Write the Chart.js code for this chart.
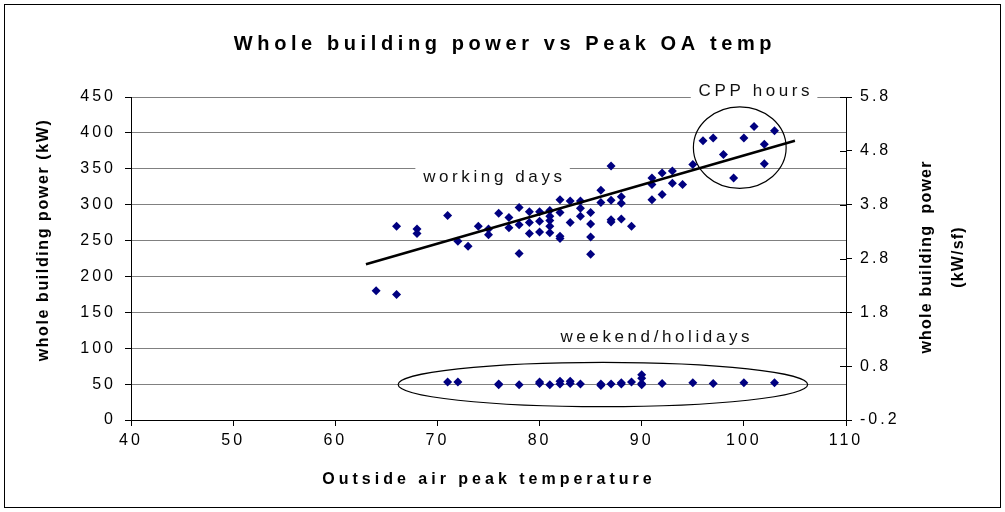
<!DOCTYPE html>
<html>
<head>
<meta charset="utf-8">
<script src="https://cdn.jsdelivr.net/npm/chart.js@4.4.1/dist/chart.umd.min.js"></script>
<style>
  html, body { margin: 0; padding: 0; background: #fff; }
  #wrap { width: 1005px; height: 512px; position: relative; }
</style>
</head>
<body>
<div id="wrap"><canvas id="chart"></canvas></div>
<script>
// working days: peak OA temp (F) and whole building power (kW)
const workingTemps = [64, 66, 66, 68, 68, 71, 72, 73, 74, 75, 75, 76, 77, 77, 78, 78, 78, 79, 79, 79,
    80, 80, 80, 81, 81, 81, 81, 81, 82, 82, 82, 82, 83, 83, 84, 84, 84, 85, 85, 85, 85,
    86, 86, 87, 87, 87, 87, 88, 88, 88, 89, 91, 91, 91, 92, 92, 93, 93, 94, 95,
    96, 97, 98, 99, 100, 101, 102, 102, 103];
const workingPower = [180, 175, 270, 266, 260, 285, 249, 242, 270, 266, 258, 288, 282, 268, 296, 272, 232, 290, 275, 260,
    290, 277, 262, 292, 284, 278, 270, 261, 307, 289, 253, 256, 305, 275, 305, 295, 284, 289, 273, 255, 231,
    320, 303, 354, 306, 276, 279, 311, 302, 280, 270, 337, 328, 307, 344, 314, 347, 330, 328, 356,
    389, 393, 370, 337, 393, 409, 384, 357, 403];

// weekend / holidays
const weekendTemps = [71, 72, 76, 76, 78, 80, 80, 81, 82, 82, 83, 83, 84, 86, 86, 87, 88, 88, 89,
    90, 90, 90, 90, 92, 95, 97, 100, 103];
const weekendPower = [53, 53, 50, 49, 49, 53, 51, 49, 54, 50, 54, 51, 50, 50, 48, 50, 50, 52, 53,
    63, 58, 51, 49, 51, 52, 51, 52, 52];

// linear trend of working days
const trendTemps = [63, 105];
const trendPower = [217, 389];

const xTicks = [40, 50, 60, 70, 80, 90, 100, 110];
const leftTicks = [0, 50, 100, 150, 200, 250, 300, 350, 400, 450];
const rightTicks = [-0.2, 0.8, 1.8, 2.8, 3.8, 4.8, 5.8];

// annotations in data units
const labels = [
    { text: 'working days', x: 75.4, y: 338 },
    { text: 'CPP hours', x: 101, y: 458 },
    { text: 'weekend/holidays', x: 91.3, y: 115 }
];
const ellipses = [
    { cx: 99.6, cy: 379.5, rx: 4.54, ry: 56.8 },
    { cx: 86.2, cy: 49.4, rx: 20.05, ry: 30.9 }
];

const FONT = "'Liberation Sans', Arial, sans-serif";

function toPoints(xs, ys) {
    return xs.map((x, i) => ({ x: x, y: ys[i] }));
}

const overlay = {
    id: 'overlay',
    beforeDraw(chart) {
        const ctx = chart.ctx;
        ctx.save();
        ctx.fillStyle = '#fff';
        ctx.fillRect(0, 0, chart.width, chart.height);
        ctx.restore();
        ctx.letterSpacing = '3px';
    },
    afterDraw(chart) {
        const ctx = chart.ctx;
        const xs = chart.scales.x, ys = chart.scales.y, y2 = chart.scales.y2;
        ctx.save();

        // inner half of right axis ticks
        ctx.strokeStyle = '#000';
        ctx.lineWidth = 1;
        rightTicks.forEach(v => {
            const py = Math.round(y2.getPixelForValue(v)) + 0.5;
            ctx.beginPath();
            ctx.moveTo(xs.right - 6, py);
            ctx.lineTo(xs.right, py);
            ctx.stroke();
        });

        // ellipses
        ellipses.forEach(e => {
            const cx = xs.getPixelForValue(e.cx), cy = ys.getPixelForValue(e.cy);
            const rx = Math.abs(xs.getPixelForValue(e.cx + e.rx) - cx);
            const ry = Math.abs(ys.getPixelForValue(e.cy + e.ry) - cy);
            ctx.beginPath();
            ctx.ellipse(cx, cy, rx, ry, 0, 0, Math.PI * 2);
            ctx.lineWidth = 1.2;
            ctx.strokeStyle = '#000';
            ctx.stroke();
        });

        // text labels with white boxes
        ctx.font = '17px ' + FONT;
        ctx.letterSpacing = '3.6px';
        ctx.textAlign = 'center';
        ctx.textBaseline = 'middle';
        labels.forEach(l => {
            const px = xs.getPixelForValue(l.x), py = ys.getPixelForValue(l.y);
            const w = ctx.measureText(l.text).width;
            ctx.fillStyle = '#fff';
            ctx.fillRect(px - w / 2 - 6, py - 10, w + 12, 20);
            ctx.fillStyle = '#111';
            ctx.fillText(l.text, px + 1.8, py);
        });

        // chart title
        ctx.font = 'bold 20px ' + FONT;
        ctx.letterSpacing = '4.6px';
        ctx.fillStyle = '#000';
        ctx.fillText('Whole building power vs Peak OA temp', 505, 44);

        // x axis title
        ctx.font = 'bold 16px ' + FONT;
        ctx.letterSpacing = '4px';
        ctx.fillText('Outside air peak temperature', 489, 480);

        // left axis title
        ctx.font = 'bold 16px ' + FONT;
        ctx.letterSpacing = '1.6px';
        ctx.save();
        ctx.translate(44, 240);
        ctx.rotate(-Math.PI / 2);
        ctx.fillText('whole building power (kW)', 0, 0);
        ctx.restore();

        // right axis title, two lines
        ctx.letterSpacing = '1.2px';
        ctx.save();
        ctx.translate(927, 257);
        ctx.rotate(-Math.PI / 2);
        ctx.fillText('whole building  power', 0, 0);
        ctx.fillText('(kW/sf)', 0, 32);
        ctx.restore();

        // outer frame
        ctx.letterSpacing = '0px';
        ctx.strokeStyle = '#000';
        ctx.lineWidth = 1;
        ctx.strokeRect(4.5, 4.5, 996, 503);
        ctx.restore();
    }
};

const tickFont = { family: FONT, size: 16 };

new Chart(document.getElementById('chart'), {
    type: 'scatter',
    data: {
        datasets: [
            {
                label: 'trend',
                data: toPoints(trendTemps, trendPower),
                showLine: true,
                borderColor: '#000',
                borderWidth: 2.5,
                pointRadius: 0,
                yAxisID: 'y'
            },
            {
                label: 'working days',
                data: toPoints(workingTemps, workingPower),
                pointStyle: 'rectRot',
                pointRadius: 4.5,
                backgroundColor: '#000080',
                borderColor: '#000080',
                borderWidth: 0,
                yAxisID: 'y'
            },
            {
                label: 'weekend/holidays',
                data: toPoints(weekendTemps, weekendPower),
                pointStyle: 'rectRot',
                pointRadius: 4.5,
                backgroundColor: '#000080',
                borderColor: '#000080',
                borderWidth: 0,
                yAxisID: 'y'
            }
        ]
    },
    options: {
        responsive: true,
        maintainAspectRatio: false,
        animation: false,
        layout: { padding: { top: 97, left: 0, right: 0, bottom: 0 } },
        plugins: {
            legend: { display: false },
            tooltip: { enabled: false },
            title: { display: false }
        },
        scales: {
            x: {
                type: 'linear',
                min: 40,
                max: 110,
                afterBuildTicks: s => { s.ticks = xTicks.map(v => ({ value: v })); },
                afterFit: s => { s.height = 92; },
                ticks: { font: tickFont, color: '#000', padding: 5, maxRotation: 0 },
                grid: { drawOnChartArea: false, drawTicks: true, tickLength: 6, tickColor: '#000' },
                border: { display: true, color: '#000', width: 1 }
            },
            y: {
                type: 'linear',
                position: 'left',
                min: 0,
                max: 450,
                afterBuildTicks: s => { s.ticks = leftTicks.map(v => ({ value: v })); },
                afterFit: s => { s.width = 131; },
                ticks: { font: tickFont, color: '#000', padding: 9 },
                grid: { color: '#808080', lineWidth: 1, drawTicks: true, tickLength: 6, tickColor: '#000' },
                border: { display: true, color: '#000', width: 1 }
            },
            y2: {
                type: 'linear',
                position: 'right',
                min: -0.2,
                max: 5.8,
                afterBuildTicks: s => { s.ticks = rightTicks.map(v => ({ value: v })); },
                afterFit: s => { s.width = 159; },
                ticks: { font: tickFont, color: '#000', padding: 8, callback: v => v.toFixed(1) },
                grid: { drawOnChartArea: false, drawTicks: true, tickLength: 6, tickColor: '#000' },
                border: { display: true, color: '#000', width: 1 }
            }
        }
    },
    plugins: [overlay]
});
</script>
</body>
</html>
